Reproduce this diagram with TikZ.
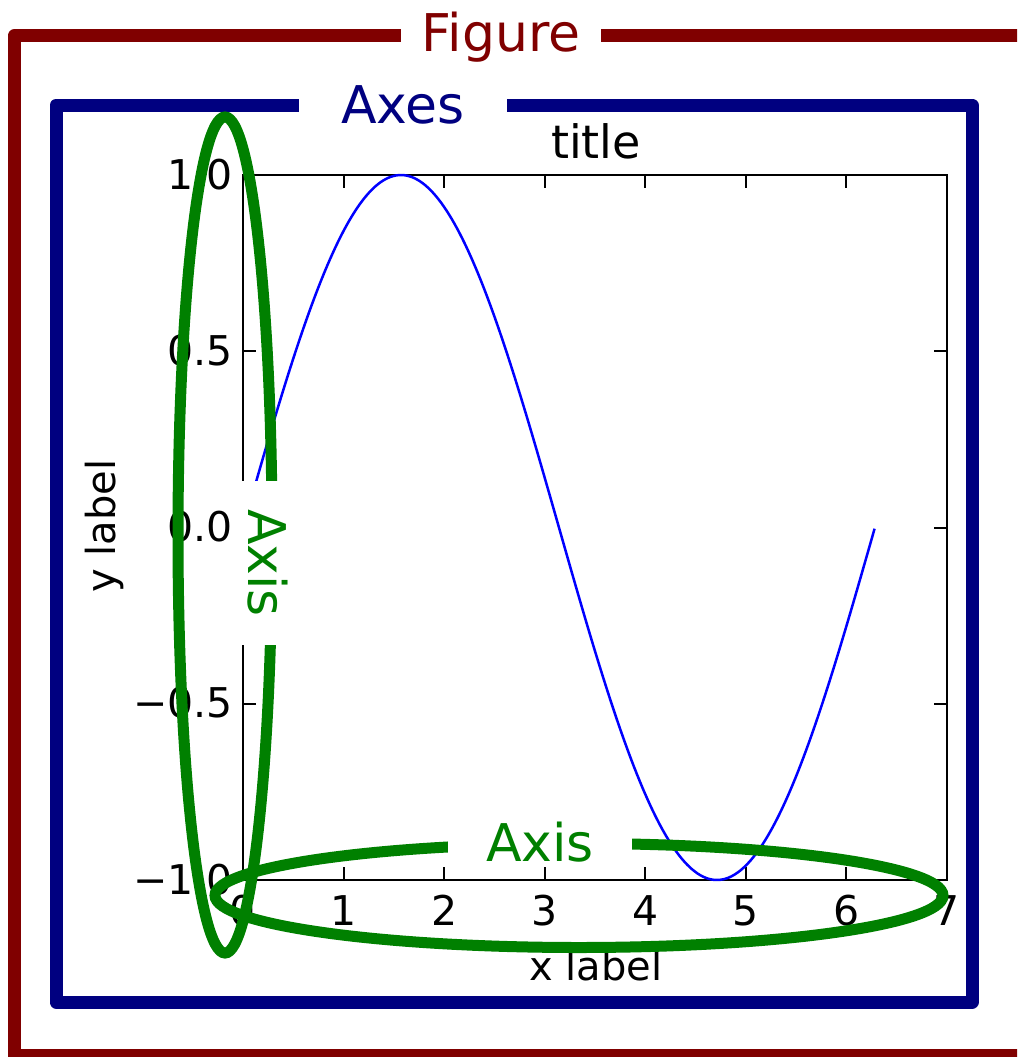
\documentclass[tikz,border=0pt]{standalone}
\usepackage{fontspec}
\setmainfont{DejaVu Sans}
\definecolor{figred}{HTML}{800000}
\definecolor{axesblue}{HTML}{000080}
\definecolor{axisgreen}{HTML}{008000}
\definecolor{sineblue}{HTML}{0000FF}
\tikzset{
  figbox/.style={draw=figred, line width=13pt, line join=round},
  axesbox/.style={draw=axesblue, line width=13pt, line join=round},
  frame/.style={draw=black, line width=2.5pt},
  tickmark/.style={draw=black, line width=2pt},
  ticklbl/.style={font=\fontsize{41}{48}\selectfont, inner sep=0pt},
  axlbl/.style={font=\fontsize{40}{48}\selectfont, inner sep=0pt},
  titlelbl/.style={font=\fontsize{46}{54}\selectfont, inner sep=0pt},
  sine/.style={draw=sineblue, line width=2.5pt},
  axisell/.style={draw=axisgreen, line width=11pt},
  figlabel/.style={text=figred, fill=white, font=\fontsize{52}{60}\selectfont, inner xsep=21pt, inner ysep=2pt},
  axeslabel/.style={text=axesblue, fill=white, font=\fontsize{52}{60}\selectfont, inner xsep=42pt, inner ysep=2pt},
  axislabel/.style={text=axisgreen, fill=white, font=\fontsize{52}{60}\selectfont},
}
\begin{document}
\begin{tikzpicture}[x=1pt,y=-1pt]
\path[use as bounding box, clip] (0,0) rectangle (1017,1057);
% figure and axes boxes
\draw[figbox] (14,36) rectangle (1045,1055);
\draw[axesbox] (56,105) rectangle (972,1002);
% ticks and tick labels
\foreach \i in {0,...,7} {
  \draw[tickmark] ({243+100.57*\i},880) -- ++(0,-13);
  \draw[tickmark] ({243+100.57*\i},175) -- ++(0,13);
  \node[ticklbl, anchor=base] (xt\i) at ({243+100.57*\i},925) {\i};
}
\foreach \v/\j in {1.0/0,0.5/1,0.0/2,−0.5/3,−1.0/4} {
  \draw[tickmark] (243,{175+176.25*\j}) -- ++(13,0);
  \draw[tickmark] (947,{175+176.25*\j}) -- ++(-13,0);
  \node[ticklbl, anchor=base east] (yt\j) at (233,{189+176.25*\j}) {\v};
}
% frame
\draw[frame] (243,175) rectangle (947,880);
% title and labels
\node[titlelbl, anchor=base] (title) at (596,158) {title};
\node[axlbl, anchor=base] (xlabel) at (596,980) {x label};
\node[axlbl, anchor=base, rotate=90] (ylabel) at (115,526) {y label};
% sine curve
\draw[sine] plot[domain=0:6.2832, samples=240] ({243+100.57*\x},{527.5-352.5*sin(\x r)});
% axis ellipses
\draw[axisell] (225,535) ellipse [x radius=47, y radius=418];
\draw[axisell] (579,895.5) ellipse [x radius=364, y radius=52];
% labels with white boxes
\node[figlabel, anchor=base] (figl) at (501,52) {Figure};
\node[axeslabel, anchor=base] (axesl) at (403,123) {Axes};
\node[axislabel, anchor=base, inner xsep=38pt, inner ysep=3pt] (xaxisl) at (540,861) {Axis};
\node[axislabel, anchor=base, rotate=-90, inner xsep=28pt, inner ysep=8pt] (yaxisl) at (248,563) {Axis};
\end{tikzpicture}
\end{document}
